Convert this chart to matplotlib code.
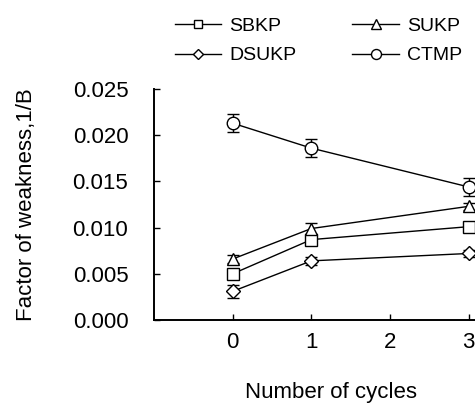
import matplotlib
matplotlib.use("Agg")
import matplotlib.pyplot as plt
from matplotlib.lines import Line2D

plt.rcParams['font.family'] = ['Liberation Sans', 'DejaVu Sans']

cycles = [0, 1, 3]
series_names = ["SBKP", "SUKP", "DSUKP", "CTMP"]
sbkp = [0.0050, 0.0087, 0.0101]
sukp = [0.0066, 0.0099, 0.0123]
dsukp = [0.0031, 0.0064, 0.0072]
ctmp = [0.0213, 0.0186, 0.0144]
sbkp_err = [0.0004, 0.0004, 0.0004]
sukp_err = [0.0004, 0.0006, 0.0004]
dsukp_err = [0.0007, 0.0004, 0.0004]
ctmp_err = [0.0010, 0.0010, 0.0010]
markers = ["s", "^", "D", "o"]
x_ticks = [0, 1, 2, 3]
y_ticks = [0.000, 0.005, 0.010, 0.015, 0.020, 0.025]
y_tick_labels = ["0.000", "0.005", "0.010", "0.015", "0.020", "0.025"]

W, H = 475, 404
fig = plt.figure(figsize=(W/100, H/100), dpi=100)
ax_l, ax_r, ax_t, ax_b = 154, 508, 89, 320
ax = fig.add_axes([ax_l/W, 1-ax_b/H, (ax_r-ax_l)/W, (ax_b-ax_t)/H])

vals = [sbkp, sukp, dsukp, ctmp]
errs = [sbkp_err, sukp_err, dsukp_err, ctmp_err]
msizes = [8, 8.5, 7, 9]
handles = []
for name, v, e, m, ms in zip(series_names, vals, errs, markers, msizes):
    ax.errorbar(cycles, v, yerr=e, color='black', lw=1.0, marker=m, ms=ms,
                mfc='white', mec='black', mew=1.0, capsize=4.5, elinewidth=1.0,
                capthick=1.0, clip_on=False, zorder=3)
    handles.append(Line2D([], [], color='black', lw=1.0, marker=m, ms=ms*0.8,
                          mfc='white', mec='black', mew=1.0, label=name))

ax.set_xlim(-1.0, 3.5)
ax.set_ylim(0, 0.025)
ax.set_xticks(x_ticks)
ax.set_yticks(y_ticks)
ax.set_yticklabels(y_tick_labels)
ax.spines['top'].set_visible(False)
ax.spines['right'].set_visible(False)
ax.spines['left'].set_linewidth(1.4)
ax.spines['bottom'].set_linewidth(1.4)
ax.tick_params(axis='both', direction='in', length=4, width=1.0, labelsize=16)
ax.tick_params(axis='x', pad=9)
ax.tick_params(axis='y', pad=18.5)

axw = ax_r - ax_l
axh = ax_b - ax_t
ax.set_xlabel("Number of cycles", fontsize=16)
ax.xaxis.set_label_coords(0.5, (ax_b - 382) / axh)
ax.set_ylabel("Factor of weakness,1/B", fontsize=16)
ax.yaxis.set_label_coords((37 - ax_l) / axw, 0.5)

order = [0, 2, 1, 3]
fig.legend([handles[i] for i in order], [series_names[i] for i in order],
           ncol=2, loc='upper left', bbox_to_anchor=(157/475, 1.0),
           frameon=False, fontsize=14, handlelength=2.4, handletextpad=0.4,
           columnspacing=2.9, labelspacing=0.6, borderaxespad=0.5)

fig.savefig("out.png", dpi=100)
